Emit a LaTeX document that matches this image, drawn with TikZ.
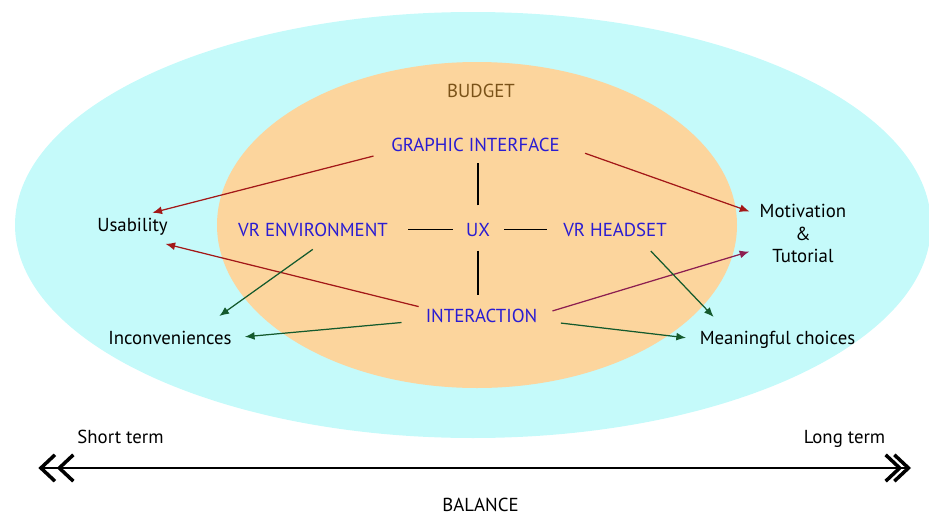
\documentclass[tikz,border=0pt]{standalone}
\usepackage{fontspec}
\setmainfont{PT Sans}
\usetikzlibrary{arrows.meta}
\definecolor{skyfill}{RGB}{197,250,250}
\definecolor{budgetfill}{RGB}{252,213,157}
\definecolor{budgettext}{RGB}{122,82,24}
\definecolor{topic}{RGB}{42,28,210}
\definecolor{redarrow}{RGB}{163,24,24}
\definecolor{plumarrow}{RGB}{140,30,80}
\definecolor{greenarrow}{RGB}{20,90,45}
\tikzstyle{label font}=[font=\fontsize{10.7pt}{13pt}\selectfont]
\tikzstyle{topic node}=[label font,text=topic,inner sep=0pt,anchor=base]
\tikzstyle{effect node}=[label font,text=black,inner sep=0pt,anchor=base]
\tikzstyle{link}=[line width=1.1pt]
\tikzstyle{arrow link}=[line width=0.7pt,-{Latex[length=5.5pt,width=4.5pt]}]
\tikzstyle{red link}=[arrow link,draw=redarrow,fill=redarrow]
\tikzstyle{plum link}=[arrow link,draw=plumarrow,fill=plumarrow]
\tikzstyle{green link}=[arrow link,draw=greenarrow,fill=greenarrow]
\tikzstyle{time line}=[line width=1.4pt,
  {Straight Barb[length=8pt,width=15pt,line width=2pt,sep=-5.5pt]Straight Barb[length=8pt,width=15pt,line width=2pt]}-{Straight Barb[length=8pt,width=15pt,line width=2pt,sep=-5.5pt]Straight Barb[length=8pt,width=15pt,line width=2pt]}]

\begin{document}
\begin{tikzpicture}
\useasboundingbox (0,0) rectangle (18.58,10.32);

% the two areas
\fill[skyfill] (9.46,5.82) ellipse [x radius=9.16cm, y radius=4.26cm];
\fill[budgetfill] (9.54,5.82) ellipse [x radius=5.2cm, y radius=3.26cm];

\node[label font,text=budgettext,inner sep=0pt,anchor=base] (budget) at (9.62,8.38) {BUDGET};

% UX and what it is made of
\node[topic node] (gi) at (9.51,7.30) {GRAPHIC INTERFACE};
\node[topic node] (venv) at (6.26,5.60) {VR ENVIRONMENT};
\node[topic node] (ux) at (9.56,5.60) {UX};
\node[topic node] (vrh) at (12.30,5.60) {VR HEADSET};
\node[topic node] (inter) at (9.63,3.88) {INTERACTION};

% effects
\node[effect node] (use) at (2.65,5.69) {Usability};
\node[effect node] (inc) at (3.40,3.43) {Inconveniences};
\node[effect node] (mc) at (15.55,3.44) {Meaningful choices};
\node[label font,inner sep=0pt,align=center] (mot) at (16.06,5.65) {Motivation\\\&\\Tutorial};

\draw[link, shorten <=0.34cm, shorten >=0.22cm] (ux.north) -- (ux.north |- gi.south);
\draw[link, shorten <=0.28cm, shorten >=0.26cm] (ux.south) -- (ux.south |- inter.north);
\draw[link, shorten <=0.26cm, shorten >=0.4cm] (ux.west) -- (ux.west -| venv.east);
\draw[link, shorten <=0.28cm, shorten >=0.32cm] (ux.east) -- (ux.east -| vrh.west);

\draw[red link, shorten <=0.36cm, shorten >=0.41cm] (gi.south west) -- (use.north);
\draw[red link, shorten <=0.53cm, shorten >=0.21cm] (gi.east) -- (mot.157);
\draw[red link, shorten <=0.14cm, shorten >=0.68cm] (inter.north west) -- (use.south);
\draw[plum link, shorten <=0.31cm, shorten >=0.21cm] (inter.east) -- (mot.199);
\draw[green link, shorten <=0.44cm, shorten >=0.51cm] (venv.-22) -- (inc.14);
\draw[green link, shorten <=0.48cm, shorten >=0.26cm] (inter.185) -- (inc.east);
\draw[green link, shorten <=0.40cm, shorten >=0.37cm] (vrh.-18) -- (mc.170);
\draw[green link, shorten <=0.47cm, shorten >=0.27cm] (inter.-5) -- (mc.west);

% time line
\node[effect node] (short) at (2.41,1.46) {Short term};
\node[effect node] (long) at (16.89,1.46) {Long term};
\node[effect node] (balance) at (9.61,0.09) {BALANCE};
\coordinate (past) at (0.96,0.96);
\coordinate (future) at (18.22,0.96);
\draw[time line] (past) -- (future);
\end{tikzpicture}
\end{document}
